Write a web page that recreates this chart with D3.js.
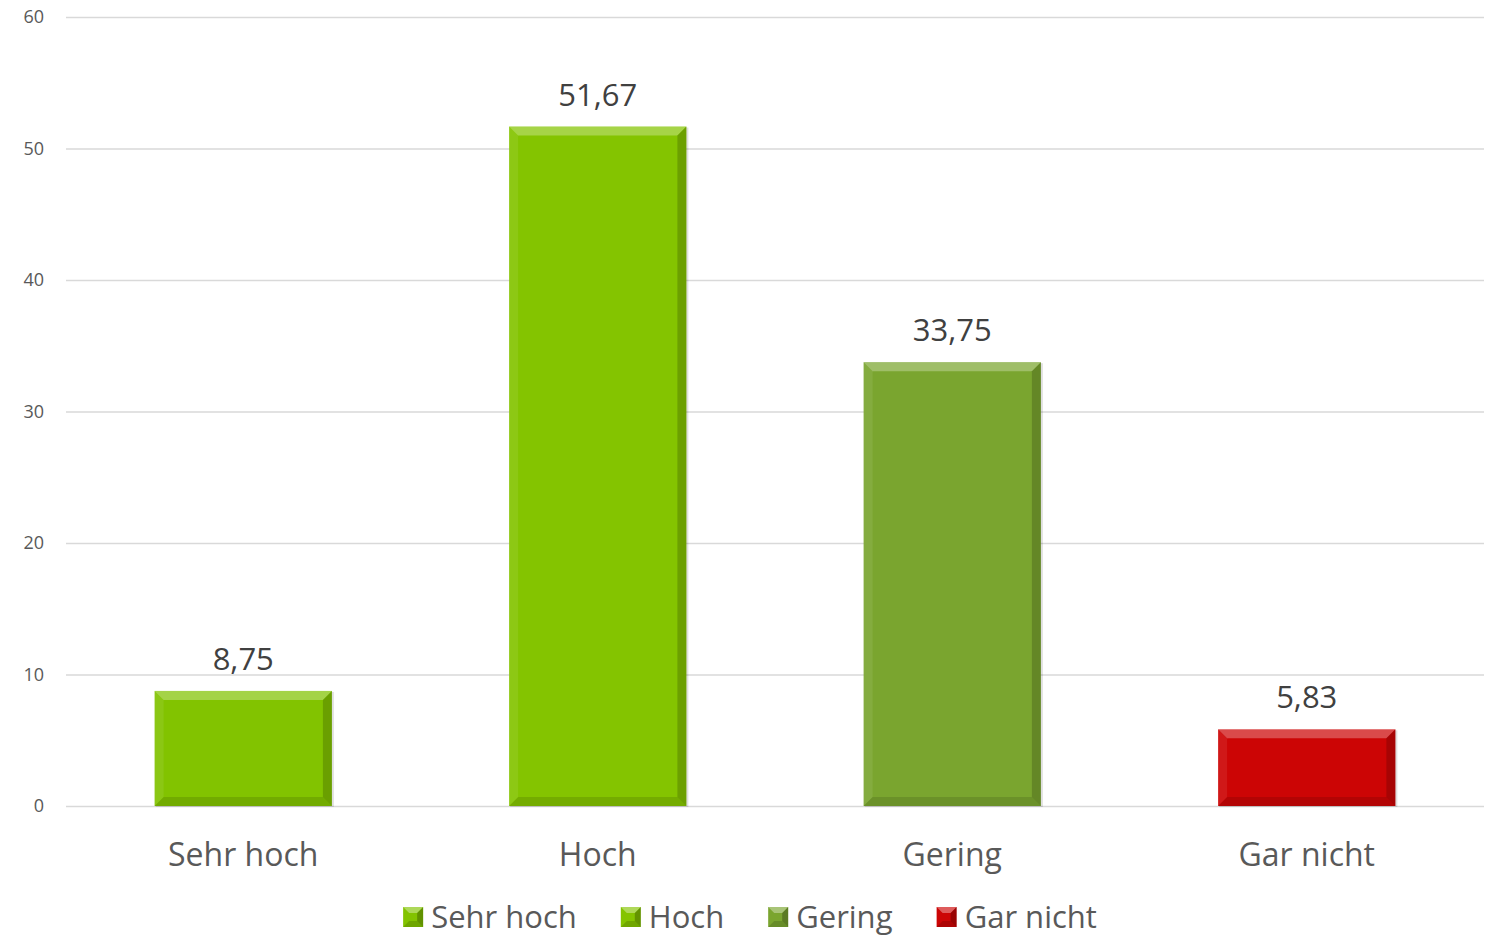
<!DOCTYPE html>
<html>
<head>
<meta charset="utf-8">
<script src="https://cdn.jsdelivr.net/npm/d3@7"></script>
<style>
  body { margin: 0; background: #fff; }
  text { font-family: "Open Sans", "Noto Sans", sans-serif; }
</style>
</head>
<body>
<div id="chart"></div>
<script>
// Data
var categories = ["Sehr hoch", "Hoch", "Gering", "Gar nicht"];
var values = [8.75, 51.67, 33.75, 5.83];
var colors = ["#82c300", "#84c400", "#7aa52f", "#cc0505"];
var yTicks = [0, 10, 20, 30, 40, 50, 60];

var width = 1496;
var height = 940;
var margin = { top: 17, right: 12, bottom: 134, left: 66 };

var svg = d3.select("#chart")
    .append("svg")
    .attr("width", width)
    .attr("height", height);

var x = d3.scaleBand()
    .domain(categories)
    .range([margin.left, width - margin.right])
    .paddingInner(0.5)
    .paddingOuter(0.25);

var y = d3.scaleLinear()
    .domain([0, 60])
    .range([height - margin.bottom, margin.top]);

// Gridlines + tick labels
var yAxis = d3.axisLeft(y)
    .tickValues(yTicks)
    .tickSize(-(width - margin.left - margin.right))
    .tickPadding(22)
    .tickFormat(d3.format("d"));

svg.append("g")
    .attr("transform", `translate(${margin.left},0)`)
    .call(yAxis)
    .call(g => g.select(".domain").remove())
    .call(g => g.selectAll(".tick line").attr("stroke", "#d9d9d9").attr("stroke-width", 1.3))
    .call(g => g.selectAll(".tick text")
        .attr("fill", "#595959")
        .style("font-size", "18px"));

// Bars with a bevel look
var bevel = 9;
var data = categories.map((c, i) => ({ cat: c, value: values[i], color: colors[i] }));

var bars = svg.selectAll(".bar")
    .data(data)
    .enter().append("g")
    .attr("class", "bar");

// soft shadow
bars.append("rect")
    .attr("x", d => x(d.cat) + 1)
    .attr("y", d => y(d.value) + 1)
    .attr("width", x.bandwidth() + 1)
    .attr("height", d => y(0) - y(d.value))
    .attr("fill", "#000")
    .attr("opacity", 0.12);

bars.append("rect")
    .attr("x", d => x(d.cat))
    .attr("y", d => y(d.value))
    .attr("width", x.bandwidth())
    .attr("height", d => y(0) - y(d.value))
    .attr("fill", d => d.color);

function facet(d, side) {
    var x0 = x(d.cat), x1 = x0 + x.bandwidth();
    var y0 = y(d.value), y1 = y(0);
    var b = Math.min(bevel, (y1 - y0) / 2);
    if (side === "top") return `M${x0},${y0}L${x1},${y0}L${x1 - b},${y0 + b}L${x0 + b},${y0 + b}Z`;
    if (side === "left") return `M${x0},${y0}L${x0 + b},${y0 + b}L${x0 + b},${y1 - b}L${x0},${y1}Z`;
    if (side === "right") return `M${x1},${y0}L${x1},${y1}L${x1 - b},${y1 - b}L${x1 - b},${y0 + b}Z`;
    return `M${x0},${y1}L${x0 + b},${y1 - b}L${x1 - b},${y1 - b}L${x1},${y1}Z`;
}

bars.append("path").attr("d", d => facet(d, "top")).attr("fill", "#fff").attr("opacity", 0.28);
bars.append("path").attr("d", d => facet(d, "left")).attr("fill", "#fff").attr("opacity", 0.08);
bars.append("path").attr("d", d => facet(d, "right")).attr("fill", "#000").attr("opacity", 0.18);
bars.append("path").attr("d", d => facet(d, "bottom")).attr("fill", "#000").attr("opacity", 0.12);

// Value labels
bars.append("text")
    .attr("x", d => x(d.cat) + x.bandwidth() / 2)
    .attr("y", d => y(d.value) - 21)
    .attr("text-anchor", "middle")
    .attr("fill", "#404040")
    .style("font-size", "31px")
    .text(d => d3.format(".2f")(d.value).replace(".", ","));

// Category labels
svg.append("g")
    .selectAll("text")
    .data(categories)
    .enter().append("text")
    .attr("x", d => x(d) + x.bandwidth() / 2)
    .attr("y", y(0) + 60)
    .attr("text-anchor", "middle")
    .attr("fill", "#595959")
    .style("font-size", "32px")
    .text(d => d);

// Legend
var legend = svg.append("g").attr("class", "legend");
var items = legend.selectAll("g")
    .data(data)
    .enter().append("g");

items.append("rect")
    .attr("width", 20)
    .attr("height", 20)
    .attr("fill", d => d.color);
items.append("path")
    .attr("d", "M0,0L20,0L14,6L6,6Z")
    .attr("fill", "#fff").attr("opacity", 0.35);
items.append("path")
    .attr("d", "M20,0L20,20L14,14L14,6Z")
    .attr("fill", "#000").attr("opacity", 0.25);
items.append("path")
    .attr("d", "M0,20L6,14L14,14L20,20Z")
    .attr("fill", "#000").attr("opacity", 0.15);

items.append("text")
    .attr("x", 28)
    .attr("y", 10)
    .attr("dy", "0.35em")
    .attr("fill", "#595959")
    .style("font-size", "31px")
    .text(d => d.cat);

// lay out legend items in a row, centered
var offset = 0;
var gap = 44;
items.each(function() {
    var w = this.getBBox().width;
    d3.select(this).attr("transform", `translate(${offset},0)`);
    offset += w + gap;
});
var total = offset - gap;
legend.attr("transform", `translate(${(width - total) / 2 + 2},${907})`);
</script>
</body>
</html>
